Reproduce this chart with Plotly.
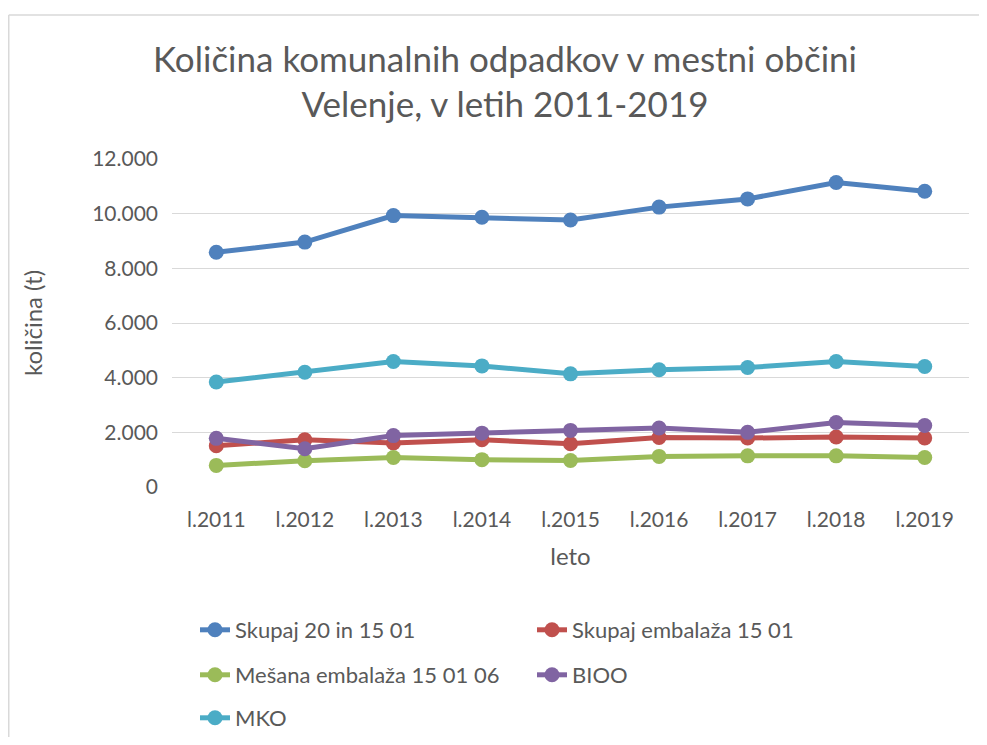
import plotly.graph_objects as go

years = ["l.2011", "l.2012", "l.2013", "l.2014", "l.2015", "l.2016", "l.2017", "l.2018", "l.2019"]
skupaj_20_in_15_01 = [8590, 8960, 9930, 9870, 9770, 10240, 10540, 11140, 10820]
skupaj_embalaza = [1510, 1730, 1610, 1730, 1580, 1810, 1790, 1830, 1790]
mesana_embalaza = [790, 960, 1080, 1000, 970, 1120, 1140, 1140, 1080]
bioo = [1780, 1400, 1880, 1970, 2070, 2160, 2000, 2360, 2250]
mko = [3840, 4200, 4590, 4430, 4140, 4290, 4370, 4590, 4410]

series = [
    ("Skupaj 20 in 15 01", skupaj_20_in_15_01, "#4F81BD", "legend"),
    ("Skupaj embalaža 15 01", skupaj_embalaza, "#C0504D", "legend"),
    ("Mešana embalaža 15 01 06", mesana_embalaza, "#9BBB59", "legend2"),
    ("BIOO", bioo, "#8064A2", "legend2"),
    ("MKO", mko, "#4BACC6", "legend3"),
]

FONT = "Lato"
GREY = "#595959"

W, H = 971, 729
L, R, T, B = 164, 10, 151, 250
PW, PH = W - L - R, H - T - B


def px(fx):
    return (fx - L) / PW


def py(fy):
    return (H - B - fy) / PH


fig = go.Figure()
for name, vals, color, leg in series:
    fig.add_trace(go.Scatter(
        x=years, y=vals, name=name, mode="lines+markers",
        line=dict(color=color, width=5),
        marker=dict(color=color, size=15),
        legend=leg,
    ))

legend_common = dict(
    orientation="h", xanchor="left", yanchor="middle",
    xref="container", yref="container",
    entrywidth=292, entrywidthmode="pixels",
    font=dict(family=FONT, size=22, color=GREY),
    bgcolor="rgba(0,0,0,0)", itemclick=False,
)

fig.update_layout(
    width=W, height=H,
    margin=dict(l=L, r=R, t=T, b=B, autoexpand=False),
    paper_bgcolor="white", plot_bgcolor="white",
    separators=",.",
    font=dict(family=FONT, color=GREY),
    title=dict(
        text="Količina komunalnih odpadkov v mestni občini<br>Velenje, v letih 2011-2019",
        x=497 / W, xanchor="center", xref="container",
        y=1 - 63.5 / H, yanchor="middle", yref="container",
        font=dict(family=FONT, size=35, color=GREY),
    ),
    xaxis=dict(
        type="category", range=[-0.5, 8.5], showgrid=False, zeroline=False,
        showline=False, ticks="", ticklabelstandoff=18,
        tickfont=dict(family=FONT, size=21, color=GREY),
        title=dict(text="leto", standoff=18, font=dict(family=FONT, size=24, color=GREY)),
    ),
    yaxis=dict(
        range=[0, 12000], tickvals=[0, 2000, 4000, 6000, 8000, 10000, 12000],
        tickformat=",.0f", showgrid=True, gridcolor="#D9D9D9", gridwidth=1.3,
        zeroline=False, showline=False, ticks="", ticklabelstandoff=13,
        tickfont=dict(family=FONT, size=21, color=GREY),
        title=dict(text="količina (t)", standoff=42, font=dict(family=FONT, size=24, color=GREY)),
    ),
    legend=dict(x=187 / W, y=1 - 622 / H, **legend_common),
    legend2=dict(x=187 / W, y=1 - 667 / H, **legend_common),
    legend3=dict(x=187 / W, y=1 - 710 / H, **legend_common),
    shapes=[
        dict(type="line", xref="paper", yref="paper",
             x0=px(0.75), x1=px(0.75), y0=py(H + 20), y1=py(7),
             line=dict(color="#D9D9D9", width=1.5)),
        dict(type="line", xref="paper", yref="paper",
             x0=px(0.75), x1=px(W + 20), y0=py(7), y1=py(7),
             line=dict(color="#D9D9D9", width=1.5)),
    ],
)

fig.write_html("out.html")
